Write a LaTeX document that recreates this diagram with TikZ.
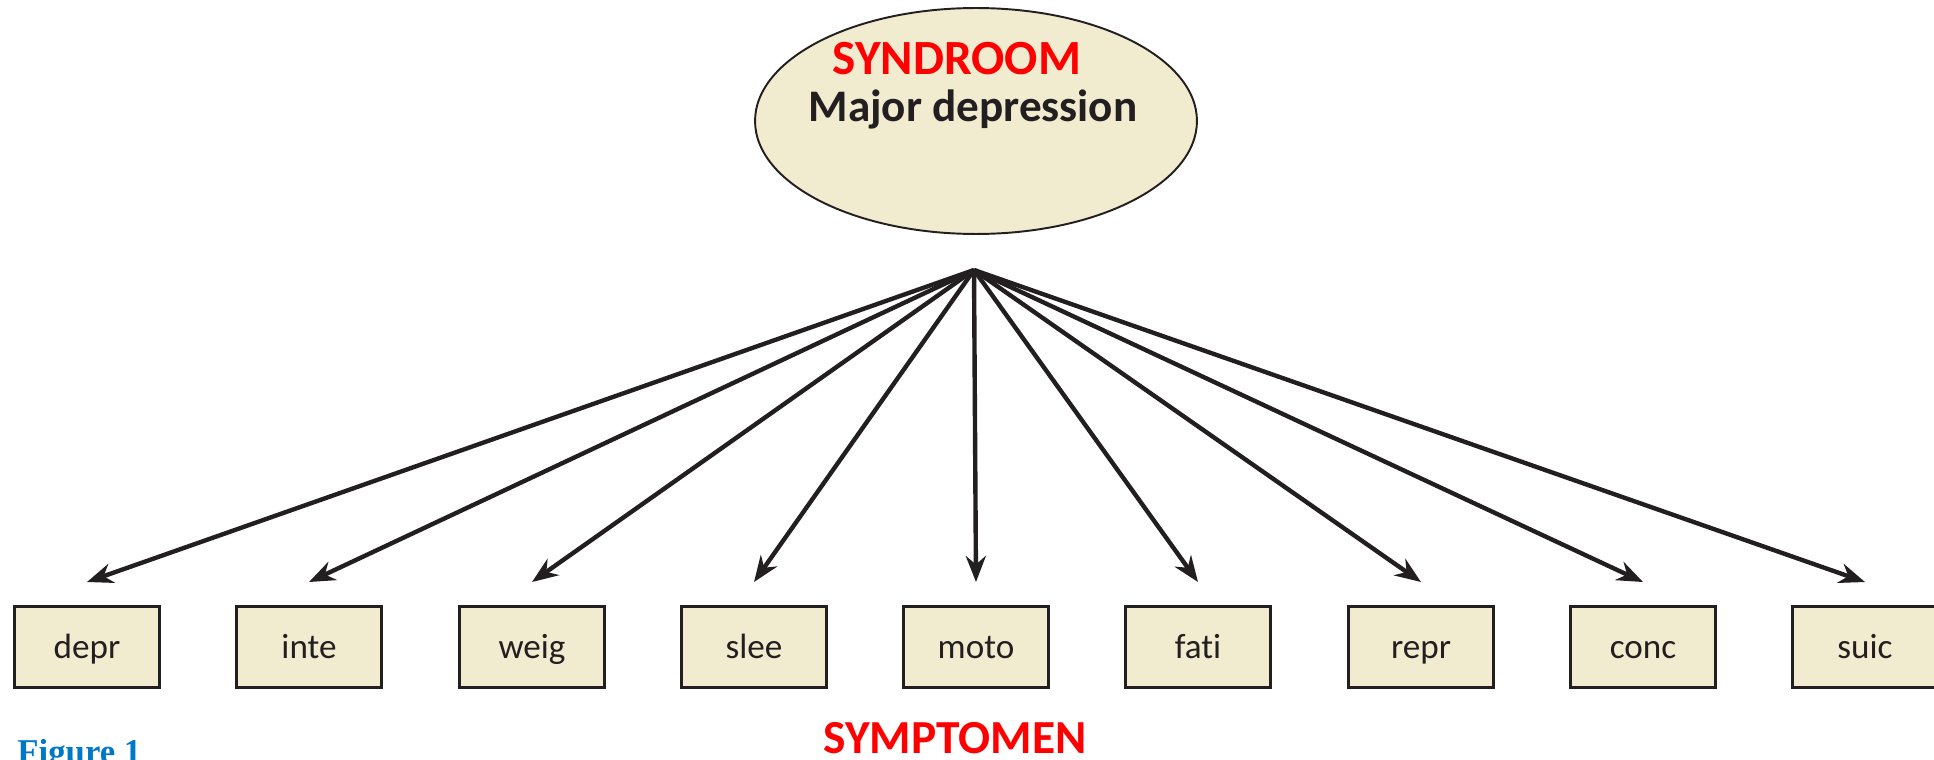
\documentclass[tikz,border=0pt]{standalone}
\usepackage{color}
\usepackage{fontspec}
\setmainfont{Carlito}[Ligatures=NoCommon]
\newfontfamily\figfont{Liberation Serif}
\usepackage{tikz}
\usetikzlibrary{shapes.geometric,arrows.meta}
\definecolor{beige}{RGB}{241,235,208}
\definecolor{donker}{RGB}{35,31,32}
\definecolor{figblauw}{RGB}{0,120,200}
\tikzset{
  symptoom/.style={draw=donker, line width=1.7pt, fill=beige, minimum width=2.9cm, minimum height=1.62cm, text=donker, text height=17pt, text depth=3.5pt, font=\fontsize{20}{24}\selectfont},
  pijl/.style={donker, line width=2.5pt, -{Stealth[length=0.52cm, width=0.4cm]}}
}

\begin{document}
\begin{tikzpicture}[x=0.02cm, y=-0.02cm] % 1 eenheid = 1 pixel
  \clip (0,0) rectangle (1934,760); % randen van het plaatje

  \node[ellipse, draw=donker, line width=1.1pt, fill=beige, minimum width=8.84cm, minimum height=4.52cm] (syndroom) at (976,121) {}; % syndroom
  \node[anchor=base, text=red, font=\bfseries\fontsize{28}{32}\selectfont] (titel) at (957,75) {SYNDROOM};
  \node[anchor=base, text=donker, font=\bfseries\fontsize{25.7}{30}\selectfont] (major) at (973,122) {Major depression};

  \coordinate (top) at (974,270); % gemeenschappelijk beginpunt van de pijlen

  % symptomen
  \node[symptoom] (depr) at (87,647) {depr};
  \node[symptoom] (inte) at (309,647) {inte};
  \node[symptoom] (weig) at (532,647) {weig};
  \node[symptoom] (slee) at (754,647) {slee};
  \node[symptoom] (moto) at (976,647) {moto};
  \node[symptoom] (fati) at (1198,647) {fati};
  \node[symptoom] (repr) at (1421,647) {repr};
  \node[symptoom] (conc) at (1643,647) {conc};
  \node[symptoom] (suic) at (1865,647) {suic};

  \draw[pijl] (top) -- ([yshift=0.46cm]depr.north);
  \draw[pijl] (top) -- ([yshift=0.46cm]inte.north);
  \draw[pijl] (top) -- ([yshift=0.46cm]weig.north);
  \draw[pijl] (top) -- ([yshift=0.46cm]slee.north);
  \draw[pijl] (top) -- ([yshift=0.46cm]moto.north);
  \draw[pijl] (top) -- ([yshift=0.46cm]fati.north);
  \draw[pijl] (top) -- ([yshift=0.46cm]repr.north);
  \draw[pijl] (top) -- ([yshift=0.46cm]conc.north);
  \draw[pijl] (top) -- ([yshift=0.46cm]suic.north);

  \node[anchor=base, text=red, font=\bfseries\fontsize{27}{32}\selectfont] (symptomen) at (955,753) {SYMPTOMEN};
  \node[anchor=base west, inner sep=0pt, text=figblauw, font=\figfont\bfseries\fontsize{19.8}{24}\selectfont] (figuur) at (17,763) {Figure 1}; % valt deels buiten beeld
\end{tikzpicture}
\end{document}
